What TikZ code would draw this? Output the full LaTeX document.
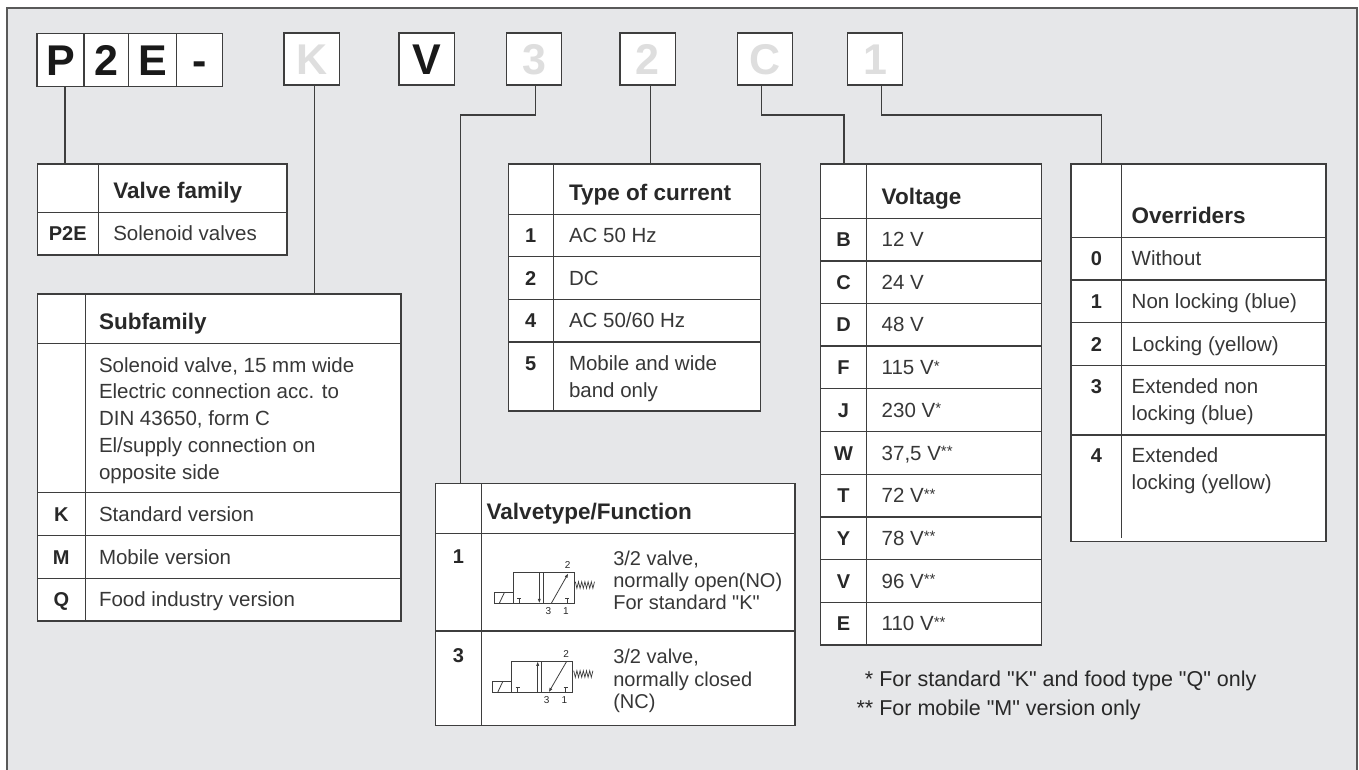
\documentclass[tikz,border=0pt]{standalone}
\usepackage{fontspec}
\setmainfont{Liberation Sans}[Ligatures=TeXOff]
\usetikzlibrary{arrows.meta,calc}
\definecolor{bg}{RGB}{230,231,233}
\definecolor{ln}{RGB}{62,62,62}
\definecolor{txt}{RGB}{40,40,40}
\definecolor{vtxt}{RGB}{55,55,55}
\definecolor{lite}{RGB}{222,222,222}
\newcommand\sstar[1]{\raisebox{3.5pt}{\fontsize{15}{15}\selectfont #1}}
\newcommand\drawvalve[4]{%
\begin{scope}[shift={(#1,#2)}, line width=0.8pt]
 \draw[ln] (-19,0) rectangle (0,-10.6);
 \draw[ln] (-14,0) -- (-9,-10.6);
 \draw[ln] (0,0) rectangle (61,-31);
 \draw[ln] (30,0) -- (30,-31);
 \draw[ln] (6,0) -- (6,-5) (4,-5) -- (8,-5);
 \draw[ln] (54,0) -- (54,-5) (52,-5) -- (56,-5);
 \ifnum#3=0
  \draw[ln,-{Latex[length=4.5pt,width=3.2pt]}] (26,-31) -- (26,0);
  \draw[ln,-{Latex[length=4.5pt,width=3.2pt]}] (38,0) -- (55,-30);
 \else
  \draw[ln,-{Latex[length=4.5pt,width=3.2pt]}] (26,0) -- (26,-31);
  \draw[ln,-{Latex[length=4.5pt,width=3.2pt]}] (55,-31) -- (37,0);
 \fi
 \draw[ln,line width=0.7pt] (62,-21.6) \foreach \i in {1,...,6}{ -- ++(1.6,6.6) -- ++(1.6,-6.6)};
 \node[font=\fontsize{10}{10}\selectfont,text=txt] (#4two) at (54.4,-38.3) {2};
 \node[font=\fontsize{10}{10}\selectfont,text=txt] (#4three) at (35,7.4) {3};
 \node[font=\fontsize{10}{10}\selectfont,text=txt] (#4one) at (52.7,7.4) {1};
\end{scope}}
\begin{document}
\begin{tikzpicture}[x=1pt,y=-1pt,
  every node/.style={inner sep=0pt,outer sep=0pt},
  tbl/.style={draw=ln,line width=1.1pt,fill=white,rectangle,anchor=north west,inner sep=0pt},
  grid/.style={draw=ln,line width=1.1pt},
  conn/.style={draw=ln,line width=1.1pt},
  hdr/.style={font=\fontsize{22.5}{27}\selectfont\bfseries,text=txt,anchor=base west},
  key/.style={font=\fontsize{20}{24}\selectfont\bfseries,text=txt,anchor=base},
  val/.style={font=\fontsize{20.5}{26.7}\selectfont,text=vtxt,anchor=base west},
  vval/.style={font=\fontsize{20}{22.3}\selectfont,text=vtxt,anchor=base west},
  foot/.style={font=\fontsize{21.5}{29}\selectfont,text=txt,anchor=base west},
  topbox/.style={draw=ln,line width=1.1pt,fill=white,minimum height=52pt,
     font=\fontsize{43}{43}\selectfont\bfseries,text height=31pt,text depth=0pt,anchor=west},
  dk/.style={text=black!90},
  lt/.style={text=lite}]
\useasboundingbox (0,0) rectangle (1359,769);
\clip (0,0) rectangle (1359,769);
\fill[white] (0,0) rectangle (1359,769);
\draw[fill=bg,draw=black!65,line width=1.3pt] (7,8) rectangle (1357,800);

% top code boxes
\node[topbox,dk,minimum width=47pt,minimum height=53.7pt] (bP) at (37,59.9) {P};
\node[topbox,dk,minimum width=44.3pt,minimum height=53.7pt] (b2a) at (84,59.9) {2};
\node[topbox,dk,minimum width=48.4pt,minimum height=53.7pt] (bE) at (128.3,59.9) {E};
\node[topbox,dk,minimum width=46pt,minimum height=53.7pt] (bD) at (176.7,59.9) {-};
\node[topbox,lt,minimum width=55.3pt] (bK) at (284,59) {K};
\node[topbox,dk,minimum width=55.3pt] (bV) at (399,59) {V};
\node[topbox,lt,minimum width=54.6pt] (b3) at (506.7,59) {3};
\node[topbox,lt,minimum width=55.3pt] (b2) at (620,59) {2};
\node[topbox,lt,minimum width=55pt] (bC) at (737.7,59) {C};
\node[topbox,lt,minimum width=55.4pt] (b1) at (847.3,59) {1};

% tables
\node[tbl,minimum width=249.7pt,minimum height=91pt] (tVF) at (37.3,164) {};
\draw[grid] (98.3,164) -- (98.3,255) (37.3,212.3) -- (287,212.3);
\node[hdr] (hVF) at (113.3,198.8) {Valve family};
\node[key] (kP2E) at (67.8,240.9) {P2E};
\node[val] (vP2E) at (113.3,240.9) {Solenoid valves};

\node[tbl,minimum width=363.7pt,minimum height=327pt] (tSF) at (37.3,294) {};
\draw[grid] (85.3,294) -- (85.3,621);
\foreach \y in {343.3,492.7,535.7,578.3} \draw[grid] (37.3,\y) -- (401,\y);
\node[hdr] (hSF) at (99,329.8) {Subfamily};
\node[val] (vSF) at (99,372.2) {\begin{tabular}[t]{@{}l@{}}Solenoid valve, 15 mm wide\\Electric connection acc. to\\DIN 43650, form C\\El/supply connection on\\opposite side\end{tabular}};
\node[key] (kK) at (61.3,521.4) {K};
\node[val] (vK) at (99,521.4) {Standard version};
\node[key] (kM) at (61.3,564.2) {M};
\node[val] (vM) at (99,564.2) {Mobile version};
\node[key] (kQ) at (61.3,606.9) {Q};
\node[val] (vQ) at (99,606.9) {Food industry version};

\node[tbl,minimum width=252.4pt,minimum height=247pt] (tTC) at (508.3,164) {};
\draw[grid] (553.3,164) -- (553.3,411);
\foreach \y in {214.3,256.7,299.3,342} \draw[grid] (508.3,\y) -- (760.7,\y);
\node[hdr] (hTC) at (569,200.8) {Type of current};
\node[key] (kT1) at (530.8,242.7) {1};
\node[val] (vT1) at (569,242.7) {AC 50 Hz};
\node[key] (kT2) at (530.8,285.2) {2};
\node[val] (vT2) at (569,285.2) {DC};
\node[key] (kT4) at (530.8,327.9) {4};
\node[val] (vT4) at (569,327.9) {AC 50/60 Hz};
\node[key] (kT5) at (530.8,370.7) {5};
\node[val] (vT5) at (569,370.7) {\begin{tabular}[t]{@{}l@{}}Mobile and wide\\band only\end{tabular}};

\node[tbl,minimum width=220.6pt,minimum height=481pt] (tV) at (820.7,164) {};
\draw[grid] (866.3,164) -- (866.3,645);
\foreach \y in {218.3,261,303.3,346,388.7,431.3,474.3,517,559.3,602.3} \draw[grid] (820.7,\y) -- (1041.3,\y);
\node[hdr] (hV) at (881.7,204.8) {Voltage};
\foreach \k/\v/\y/\n in {B/12 V/246.9/1,C/24 V/289.4/2,D/48 V/331.9/3,F/{115 V\sstar{*}}/374.6/4,J/{230 V\sstar{*}}/417.2/5,W/{37,5 V\sstar{**}}/460/6,T/{72 V\sstar{**}}/502.9/7,Y/{78 V\sstar{**}}/545.4/8,V/{96 V\sstar{**}}/588/9,E/{110 V\sstar{**}}/630.9/10}{
  \node[key] (kV\n) at (843.5,\y) {\k};
  \node[val] (vV\n) at (881.7,\y) {\v};
}

\node[tbl,minimum width=255pt,minimum height=377.7pt] (tO) at (1071,164) {};
\draw[grid] (1121.7,164) -- (1121.7,538);
\foreach \y in {237.3,280,322.7,365.3,435} \draw[grid] (1071,\y) -- (1326,\y);
\node[hdr] (hO) at (1131.7,223.8) {Overriders};
\node[key] (kO0) at (1096.3,265.9) {0};
\node[val] (vO0) at (1131.7,265.9) {Without};
\node[key] (kO1) at (1096.3,308.6) {1};
\node[val] (vO1) at (1131.7,308.6) {Non locking (blue)};
\node[key] (kO2) at (1096.3,351.2) {2};
\node[val] (vO2) at (1131.7,351.2) {Locking (yellow)};
\node[key] (kO3) at (1096.3,393.9) {3};
\node[val] (vO3) at (1131.7,393.9) {\begin{tabular}[t]{@{}l@{}}Extended non\\locking (blue)\end{tabular}};
\node[key] (kO4) at (1096.3,462.9) {4};
\node[val] (vO4) at (1131.7,462.9) {\begin{tabular}[t]{@{}l@{}}Extended\\locking (yellow)\end{tabular}};

\node[tbl,minimum width=359.3pt,minimum height=242pt] (tVT) at (435.7,483.3) {};
\draw[grid] (481.3,483.3) -- (481.3,725.3) (435.7,533.3) -- (795,533.3) (435.7,631) -- (795,631);
\node[hdr] (hVT) at (486.7,519.8) {Valvetype/Function};
\node[key] (kVT1) at (458.5,563.9) {1};
\node[vval] (vVT1) at (613.3,565.2) {\begin{tabular}[t]{@{}l@{}}3/2 valve,\\normally open(NO)\\For standard "K"\end{tabular}};
\node[key] (kVT3) at (458.5,662.2) {3};
\node[vval] (vVT3) at (613.3,663.9) {\begin{tabular}[t]{@{}l@{}}3/2 valve,\\normally closed\\(NC)\end{tabular}};
\drawvalve{513.3}{603.3}{0}{sa}
\drawvalve{511.7}{692.3}{1}{sb}

% connectors
\draw[conn] ([xshift=4.5pt]bP.south) -- ([xshift=4.5pt]bP.south |- tVF.north);
\draw[conn] ([xshift=2.6pt]bK.south) -- ([xshift=2.6pt]bK.south |- tSF.north);
\draw[conn] ([xshift=1.7pt]b3.south) -- ++(0,30) -| ([xshift=24.8pt]tVT.north west);
\draw[conn] ([xshift=2.85pt]b2.south) -- ([xshift=2.85pt]b2.south |- tTC.north);
\draw[conn] ([xshift=-3.5pt]bC.south) -- ++(0,30) -| ([xshift=23.3pt]tV.north west);
\draw[conn] ([xshift=6.7pt]b1.south) -- ++(0,30) -| ([xshift=30.7pt]tO.north west);

% footnotes
\node[foot] (fn) at (856.6,686) {\begin{tabular}[t]{@{}r@{\ }l@{}}*&For standard "K" and food type "Q" only\\\relax **&For mobile "M" version only\end{tabular}};
\end{tikzpicture}
\end{document}
